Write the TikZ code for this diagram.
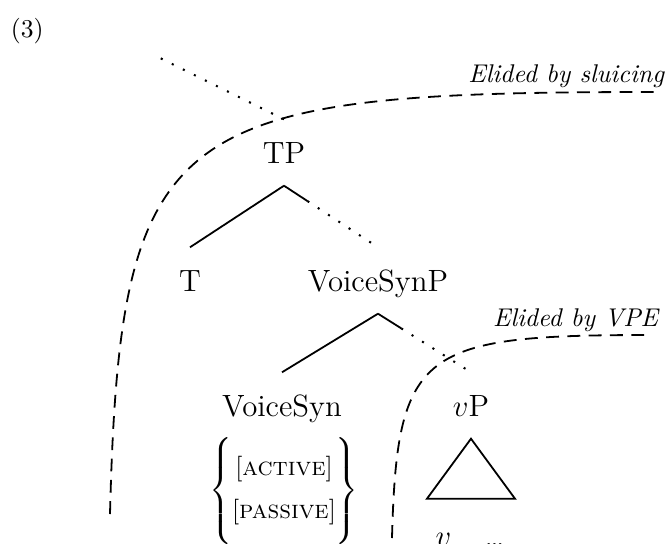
\documentclass[tikz,border=0pt]{standalone}
\usetikzlibrary{calc}
\tikzset{every picture/.style={line width=0.7pt}}
\tikzset{
  cat/.style={anchor=base, font=\large, inner xsep=0pt, inner ysep=8.5pt, text height=8.2pt, text depth=0pt},
  dotedge/.style={line width=0.8pt, dash pattern=on 0.8pt off 4pt},
  elidecurve/.style={line width=0.7pt, dash pattern=on 5pt off 3.3pt},
  elidenote/.style={anchor=base east, font=\itshape, inner sep=0pt},
}
\begin{document}
\begin{tikzpicture}[x=0.39pt,y=0.39pt,yscale=-1,xscale=1]
	\useasboundingbox (0,0) rectangle (668,544);

	% Text Node
	\node[anchor=base west, inner sep=0pt] (exnum) at (10,37) {(3)};

	% Tree Nodes
	\node[cat] (TP) at (284,163) {TP};
	\node[cat] (T) at (190,291) {T};
	\node[cat] (VSP) at (378,291) {VoiceSynP};
	\node[cat] (VS) at (282,416) {VoiceSyn};
	\node[cat] (vP) at (471,416) {$v$P};
	\node[inner sep=0pt] (VSfeat) at (284,491) {$\left\{\begin{tabular}{@{}c@{}}\rule{0pt}{15pt}[\textsc{active}]\\[4.8pt] [\textsc{passive}]\rule[-10pt]{0pt}{10pt}\end{tabular}\right\}$};
	\node[anchor=base, font=\large, inner sep=0pt] (vrest) at (470,546) {$v$\hspace{13pt}\ldots};

	% Straight Lines
	\coordinate (TPup) at (160,58);
	\draw[dotedge] (TP.north) -- (TPup);
	\draw (TP.south) -- (T.north);
	\coordinate (TPcut) at ($(TP.south)!0.25!(VSP.north)$);
	\draw (TP.south) -- (TPcut);
	\draw[dotedge] (TPcut) -- (VSP.north);
	\draw (VSP.south) -- (VS.north);
	\coordinate (VSPcut) at ($(VSP.south)!0.25!(vP.north)$);
	\draw (VSP.south) -- (VSPcut);
	\draw[dotedge] (VSPcut) -- (vP.north);
	% Triangle
	\draw (vP.south) -- ++(44,60) -- ++(-88,0) -- cycle;

	% Curve Lines
	\draw[elidecurve] (110,514) .. controls (120,120) and (170,92) .. (655,92);
	\draw[elidecurve] (392,538) .. controls (397,349) and (421,335) .. (652,335);

	% Text Node
	\node[elidenote] (sluicenote) at (665,82) {Elided by sluicing};
	\node[elidenote] (vpenote) at (659,326) {Elided by VPE};

\end{tikzpicture}
\end{document}
